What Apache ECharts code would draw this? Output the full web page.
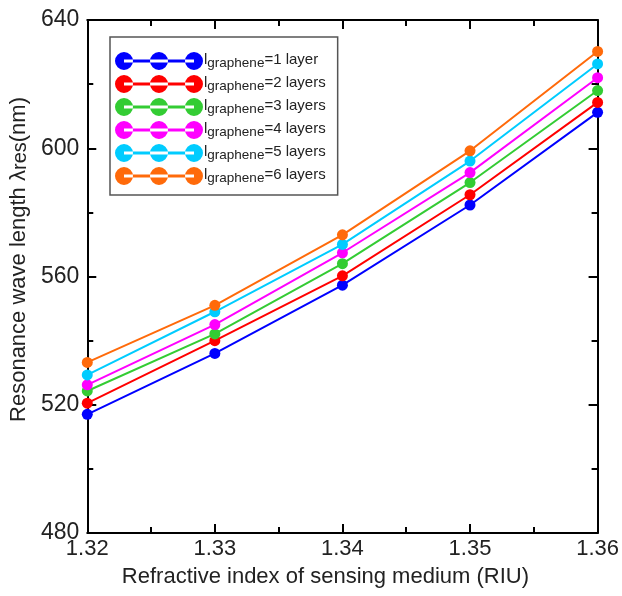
<!DOCTYPE html>
<html>
<head>
<meta charset="utf-8">
<script src="https://cdn.jsdelivr.net/npm/echarts@6/dist/echarts.min.js"></script>
<style>
  html, body { margin: 0; padding: 0; background: #fff; }
  #chart { width: 622px; height: 596px; }
</style>
</head>
<body>
<div id="chart"></div>
<script>
// Refractive index of the sensing medium (RIU)
const refractiveIndex = [1.32, 1.33, 1.34, 1.35, 1.36];

// Resonance wavelength (nm) for each graphene layer count
const layers1 = [517.0, 536.0, 557.3, 582.3, 611.2];
const layers2 = [520.5, 540.0, 560.2, 585.5, 614.3];
const layers3 = [524.3, 542.1, 564.0, 589.3, 618.0];
const layers4 = [526.2, 545.0, 567.4, 592.4, 622.0];
const layers5 = [529.3, 549.0, 570.0, 596.0, 626.3];
const layers6 = [533.2, 551.0, 573.0, 599.2, 630.2];

const layerLabels = ['1 layer', '2 layers', '3 layers', '4 layers', '5 layers', '6 layers'];
const layerColors = ['#0000ff', '#ff0000', '#33cc33', '#ff00ff', '#00ccff', '#ff6a0a'];
const layerData = [layers1, layers2, layers3, layers4, layers5, layers6];

const xTicks = ['1.32', '1.33', '1.34', '1.35', '1.36'];
const yTicks = [480, 520, 560, 600, 640];

// legend icon: three dots joined by a line
const legendIcon = 'path://' +
  'M0,9a9,9 0 1,0 18,0a9,9 0 1,0 -18,0Z' +
  'M35,9a9,9 0 1,0 18,0a9,9 0 1,0 -18,0Z' +
  'M70,9a9,9 0 1,0 18,0a9,9 0 1,0 -18,0Z' +
  'M9,7.5L79,7.5L79,10.5L9,10.5Z';

const series = layerData.map((vals, i) => ({
  name: 'l graphene=' + layerLabels[i],
  type: 'line',
  data: vals.map((v, j) => [refractiveIndex[j], v]),
  symbol: 'circle',
  symbolSize: 11,
  lineStyle: { width: 2, color: layerColors[i] },
  itemStyle: { color: layerColors[i] },
  z: 3 + i
}));

const fontFamily = 'Liberation Sans, Arial, sans-serif';
const textColor = '#222';

const chart = echarts.init(document.getElementById('chart'), null, { renderer: 'canvas' });

const axisLine = { show: true, lineStyle: { color: '#000', width: 2 } };
const majorTick = { show: true, inside: true, length: 9, lineStyle: { color: '#000', width: 2 } };
const minorTick = { show: true, splitNumber: 2, length: 6, lineStyle: { color: '#000', width: 2 } };

chart.setOption({
  animation: false,
  backgroundColor: '#fff',
  grid: { left: 85, right: 23, top: 20, bottom: 63 },
  legend: {
    orient: 'vertical',
    left: 110,
    top: 37,
    padding: [15, 12, 10, 5],
    itemGap: 5,
    itemWidth: 88,
    itemHeight: 18,
    icon: legendIcon,
    borderColor: '#555',
    borderWidth: 1.5,
    backgroundColor: '#fff',
    data: series.map(s => s.name),
    formatter: name => {
      const label = name.split('=')[1];
      return '{a|l}{b|graphene}{a|=' + label + '}';
    },
    textStyle: {
      fontFamily: fontFamily,
      color: textColor,
      padding: [0, 0, 0, -4],
      rich: {
        a: { fontSize: 15, fontFamily: fontFamily, color: textColor, lineHeight: 18, verticalAlign: 'top' },
        b: { fontSize: 13.5, fontFamily: fontFamily, color: textColor, lineHeight: 18, verticalAlign: 'bottom' }
      }
    }
  },
  xAxis: [{
    type: 'value',
    min: 1.32,
    max: 1.36,
    interval: 0.01,
    name: 'Refractive index of sensing medium (RIU)',
    nameLocation: 'middle',
    nameGap: 33,
    nameTextStyle: { fontFamily: fontFamily, fontSize: 22, color: textColor, padding: [0, 34, 0, 0] },
    axisLine: axisLine,
    axisTick: majorTick,
    minorTick: minorTick,
    splitLine: { show: false },
    axisLabel: {
      fontFamily: fontFamily, fontSize: 22, color: textColor, margin: 5,
      formatter: v => xTicks[Math.round((v - 1.32) / 0.01)] || ''
    }
  }, {
    type: 'value',
    position: 'top',
    min: 1.32,
    max: 1.36,
    interval: 0.01,
    axisLine: axisLine,
    axisTick: majorTick,
    minorTick: minorTick,
    splitLine: { show: false },
    axisLabel: { show: false }
  }],
  yAxis: [{
    type: 'value',
    min: 480,
    max: 640,
    interval: 40,
    name: '{n|Resonance wave length λ}{s|res}{n|(nm)}',
    nameLocation: 'middle',
    nameGap: 56,
    nameRotate: 90,
    nameTextStyle: {
      fontFamily: fontFamily, color: textColor,
      padding: [0, 0, 0, 34],
      rich: {
        n: { fontFamily: fontFamily, fontSize: 22, color: textColor, lineHeight: 24 },
        s: { fontFamily: fontFamily, fontSize: 20, color: textColor, lineHeight: 24, padding: [2, 0, 0, 0] }
      }
    },
    axisLine: axisLine,
    axisTick: majorTick,
    minorTick: minorTick,
    splitLine: { show: false },
    axisLabel: {
      fontFamily: fontFamily, fontSize: 23, color: textColor, margin: 8,
      formatter: v => (yTicks.indexOf(v) >= 0 ? String(v) : '')
    }
  }, {
    type: 'value',
    position: 'right',
    min: 480,
    max: 640,
    interval: 40,
    axisLine: axisLine,
    axisTick: majorTick,
    minorTick: minorTick,
    splitLine: { show: false },
    axisLabel: { show: false }
  }],
  series: series
});
</script>
</body>
</html>
